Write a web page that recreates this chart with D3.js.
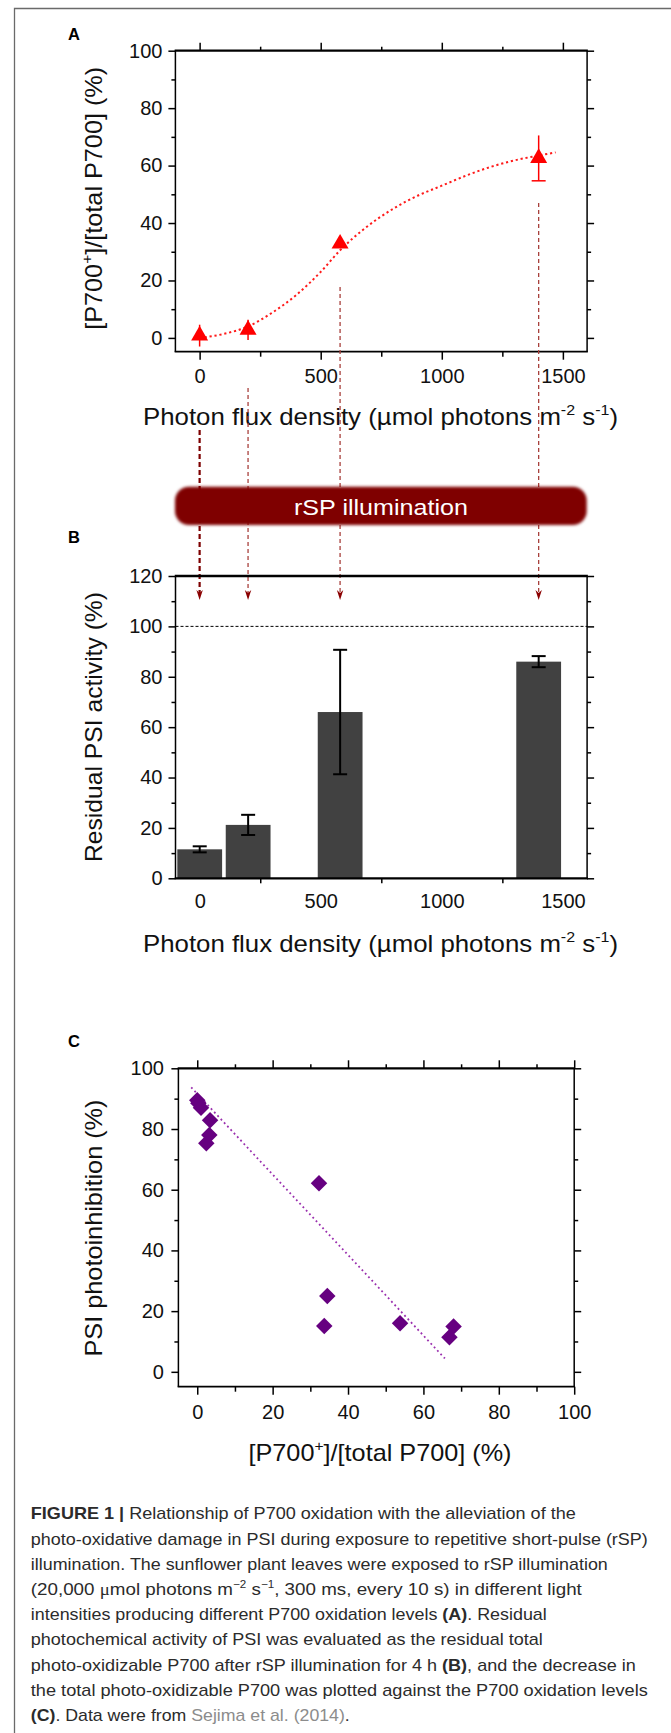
<!DOCTYPE html>
<html><head><meta charset="utf-8">
<script src="https://cdn.jsdelivr.net/npm/d3@7"></script>
<style>
html,body{margin:0;padding:0;background:#fff;}
svg text{font-family:"Liberation Sans",Arial,Helvetica,sans-serif;}
</style></head><body>
<svg id="chart" width="671" height="1733"></svg>
<script>
// ---------------- DATA ----------------
// Panel A: P700 oxidation vs photon flux density
const pfdLevels = [0, 200, 580, 1400];
const p700Ox = [0.8, 2.8, 32.8, 62.6];
const p700OxErr = [3.8, 3.5, 1.5, 7.9];
// fitted sigmoid curve
const fitX = [0, 100, 200, 300, 400, 500, 580, 680, 800, 900, 1000, 1100, 1200, 1300, 1400, 1470];
const fitY = [0, 1.4, 4.0, 8.8, 15.0, 23.0, 30.5, 38.0, 45.0, 49.5, 53.0, 56.5, 59.5, 61.8, 63.5, 64.6];
// Panel B: residual PSI activity
const residualPSI = [11.5, 21.2, 66.0, 86.0];
const residualErr = [1.2, 4.0, 24.7, 2.2];
// Panel C: PSI photoinhibition vs P700 oxidation
const oxLevel = [0, 0.3, 1.0, 3.4, 3.2, 2.4, 32.3, 34.5, 33.7, 53.8, 68.0, 66.9];
const photoinhib = [89.5, 88.5, 87.0, 82.9, 78.0, 75.3, 62.1, 25.0, 15.1, 16.0, 14.9, 11.4];
const regX = [-1.6, 65.7];
const regY = [93.7, 4.4];
// ticks
const pfdMajor = [0, 500, 1000, 1500];
const pfdMinor = [250, 750, 1250];
const pctMajor = [0, 20, 40, 60, 80, 100];
const pctMinor = [10, 30, 50, 70, 90];
const resMajor = [0, 20, 40, 60, 80, 100, 120];
const resMinor = [10, 30, 50, 70, 90, 110];

// ---------------- DRAW ----------------
const FONT = '"Liberation Sans",Arial,Helvetica,sans-serif';
const svg = d3.select('#chart');
svg.append('rect').attr('width', 671).attr('height', 1733).attr('fill', '#fff');
const defs = svg.append('defs');
defs.append('filter').attr('id', 'soft')
  .attr('x', '-5%').attr('y', '-30%').attr('width', '110%').attr('height', '160%')
  .append('feGaussianBlur').attr('stdDeviation', 1.6);

// outer figure frame
svg.append('path').attr('d', 'M14.5,1733 V8.5 H671').attr('fill', 'none')
  .attr('stroke', '#6a6a6a').attr('stroke-width', 1.3);

function axis(gen, scale, tx, ty, vals, size, labels, pad) {
  const a = gen(scale).tickValues(vals).tickSize(size).tickSizeOuter(0);
  if (labels) a.tickPadding(pad).tickFormat(d3.format('d')); else a.tickFormat('');
  const g = svg.append('g').attr('transform', `translate(${tx},${ty})`).call(a);
  g.attr('font-family', FONT).attr('font-size', 20);
  g.select('.domain').remove();
  g.selectAll('line').attr('stroke', '#000').attr('stroke-width', 1.5);
  g.selectAll('text').attr('fill', '#111');
  return g;
}

function frame(b, thickTop, thickBottom) {
  svg.append('line').attr('x1', b.l).attr('x2', b.l).attr('y1', b.t).attr('y2', b.b)
    .attr('stroke', '#000').attr('stroke-width', 1.5);
  svg.append('line').attr('x1', b.r).attr('x2', b.r).attr('y1', b.t).attr('y2', b.b)
    .attr('stroke', '#000').attr('stroke-width', 1.5);
  svg.append('line').attr('x1', b.l - 0.75).attr('x2', b.r + 0.75).attr('y1', b.t).attr('y2', b.t)
    .attr('stroke', '#000').attr('stroke-width', thickTop);
  svg.append('line').attr('x1', b.l - 0.75).attr('x2', b.r + 0.75).attr('y1', b.b).attr('y2', b.b)
    .attr('stroke', '#000').attr('stroke-width', thickBottom);
}

function panelLabel(t, x, y) {
  svg.append('text').attr('x', x).attr('y', y).text(t)
    .attr('font-size', 16.5).attr('font-weight', 'bold').attr('fill', '#000');
}

function yTitle(parts, cx, cy, len) {
  const t = svg.append('text').attr('transform', `translate(${cx},${cy}) rotate(-90)`)
    .attr('text-anchor', 'middle').attr('font-size', 24).attr('fill', '#111')
    .attr('textLength', len).attr('lengthAdjust', 'spacingAndGlyphs');
  addParts(t, parts, 24);
}
function xTitle(parts, cx, y, len) {
  const t = svg.append('text').attr('x', cx).attr('y', y)
    .attr('text-anchor', 'middle').attr('font-size', 24).attr('fill', '#111')
    .attr('textLength', len).attr('lengthAdjust', 'spacingAndGlyphs');
  addParts(t, parts, 24);
}
function addParts(t, parts, fs) {
  let raised = false;
  parts.forEach(p => {
    const s = t.append('tspan').text(p.s);
    if (p.sup) { s.attr('font-size', fs * 0.62).attr('dy', raised ? 0 : -fs * 0.42); raised = true; }
    else if (raised) { s.attr('dy', fs * 0.42); raised = false; }
    if (p.bold) s.attr('font-weight', 'bold');
    if (p.serif) s.attr('font-family', '"Liberation Serif","Times New Roman",serif');
    if (p.color) s.attr('fill', p.color);
  });
}
const pfdTitle = [{s: 'Photon flux density (µmol photons m'}, {s: '-2', sup: true}, {s: ' s'}, {s: '-1', sup: true}, {s: ')'}];
const oxTitle = [{s: '[P700'}, {s: '+', sup: true}, {s: ']/[total P700] (%)'}];

// ===== Panel A =====
const A = {l: 175.4, r: 587.1, t: 50.7, b: 351.7};
const xA = d3.scaleLinear().domain([-100, 1600]).range([A.l, A.r]);
const yA = d3.scaleLinear().domain([-4.8, 100]).range([A.b, A.t]);
axis(d3.axisLeft, yA, A.l, 0, pctMajor, 7, true, 6);
axis(d3.axisLeft, yA, A.l, 0, pctMinor, 4, false);
axis(d3.axisRight, yA, A.r, 0, pctMajor, 7, false);
axis(d3.axisRight, yA, A.r, 0, pctMinor, 4, false);
axis(d3.axisTop, xA, 0, A.t, pfdMajor, 8, false);
axis(d3.axisTop, xA, 0, A.t, pfdMinor, 4, false);
axis(d3.axisBottom, xA, 0, A.b, pfdMajor, 8, true, 9);
axis(d3.axisBottom, xA, 0, A.b, pfdMinor, 5, false);
frame(A, 2.2, 1.8);
panelLabel('A', 68, 40);
yTitle(oxTitle, 102, 198.3, 263);
xTitle(pfdTitle, 380.5, 425, 475);

// fitted curve
const fitPts = fitX.map((x, i) => [x, fitY[i]]);
svg.append('path').datum(fitPts)
  .attr('d', d3.line().x(d => xA(d[0])).y(d => yA(d[1])).curve(d3.curveMonotoneX))
  .attr('fill', 'none').attr('stroke', '#ff1a1a').attr('stroke-width', 2)
  .attr('stroke-dasharray', '2.2,2.8');

// error bars + triangles
pfdLevels.forEach((x, i) => {
  const cx = xA(x), lo = yA(p700Ox[i] - p700OxErr[i]), hi = yA(p700Ox[i] + p700OxErr[i]);
  svg.append('line').attr('x1', cx).attr('x2', cx).attr('y1', lo).attr('y2', hi)
    .attr('stroke', '#ff0000').attr('stroke-width', 1.5);
  if (p700OxErr[i] > 5) {
    svg.append('line').attr('x1', cx - 7).attr('x2', cx + 7).attr('y1', lo).attr('y2', lo)
      .attr('stroke', '#ff0000').attr('stroke-width', 1.5);
  }
});
svg.selectAll('.tri').data(pfdLevels).enter().append('path')
  .attr('d', d3.symbol(d3.symbolTriangle, 125))
  .attr('transform', (d, i) => `translate(${xA(d)},${yA(p700Ox[i])})`)
  .attr('fill', '#ff0000');

// ===== Panel B frame/scales =====
const B = {l: 175.5, r: 587.1, t: 576, b: 878.3};
const xB = d3.scaleLinear().domain([-100, 1600]).range([B.l, B.r]);
const yB = d3.scaleLinear().domain([0, 120]).range([B.b, B.t]);

// guide lines from A to B (dashed arrows)
const guideTop = [430, 388, 287, 203];
const arrowTip = 600;
pfdLevels.forEach((x, i) => {
  const gx = xA(x);
  svg.append('line').attr('x1', gx).attr('x2', gx).attr('y1', guideTop[i]).attr('y2', arrowTip - 6)
    .attr('stroke', i === 0 ? '#7d0000' : '#a8403c')
    .attr('stroke-width', i === 0 ? 2.2 : 1.3)
    .attr('stroke-dasharray', i === 0 ? '5,3' : '4,3');
  svg.append('path')
    .attr('d', `M${gx - 3.2},${arrowTip - 10} L${gx},${arrowTip} L${gx + 3.2},${arrowTip - 10} L${gx},${arrowTip - 7} Z`)
    .attr('fill', '#8b0000');
});

// rSP illumination bar
svg.append('rect').attr('x', 175).attr('y', 486.7).attr('width', 411.7).attr('height', 38.3)
  .attr('rx', 14).attr('fill', '#7f0000').attr('filter', 'url(#soft)');
svg.append('text').attr('x', 381).attr('y', 515).attr('text-anchor', 'middle')
  .attr('font-size', 22.5).attr('fill', '#fff').attr('textLength', 174)
  .attr('lengthAdjust', 'spacingAndGlyphs').text('rSP illumination');

// ===== Panel B =====
axis(d3.axisLeft, yB, B.l, 0, resMajor, 7, true, 6);
axis(d3.axisLeft, yB, B.l, 0, resMinor, 4, false);
axis(d3.axisRight, yB, B.r, 0, resMajor, 7, false);
axis(d3.axisRight, yB, B.r, 0, resMinor, 4, false);
axis(d3.axisBottom, xB, 0, B.b, pfdMajor, 0, true, 16);
axis(d3.axisBottom, xB, 0, B.b, pfdMinor, 5, false);

// 100% reference line
svg.append('line').attr('x1', B.l).attr('x2', B.r).attr('y1', yB(100)).attr('y2', yB(100))
  .attr('stroke', '#000').attr('stroke-width', 1).attr('stroke-dasharray', '3,2');

const barHalf = 92.5;
svg.selectAll('.bar').data(pfdLevels).enter().append('rect')
  .attr('x', d => xB(d - barHalf)).attr('width', d => xB(d + barHalf) - xB(d - barHalf))
  .attr('y', (d, i) => yB(residualPSI[i])).attr('height', (d, i) => yB(0) - yB(residualPSI[i]))
  .attr('fill', '#414141');
pfdLevels.forEach((x, i) => {
  const cx = xB(x), lo = yB(residualPSI[i] - residualErr[i]), hi = yB(residualPSI[i] + residualErr[i]);
  svg.append('line').attr('x1', cx).attr('x2', cx).attr('y1', lo).attr('y2', hi)
    .attr('stroke', '#000').attr('stroke-width', 2);
  [lo, hi].forEach(yy => svg.append('line').attr('x1', cx - 7).attr('x2', cx + 7)
    .attr('y1', yy).attr('y2', yy).attr('stroke', '#000').attr('stroke-width', 2));
});
frame(B, 2.4, 2.2);
panelLabel('B', 68, 543.3);
yTitle([{s: 'Residual PSI activity (%)'}], 102, 727, 270);
xTitle(pfdTitle, 380.5, 951.6, 475);

// ===== Panel C =====
const C = {l: 178.4, r: 574.2, t: 1068.3, b: 1386.7};
const xC = d3.scaleLinear().domain([-5, 100]).range([C.l, C.r]);
const yC = d3.scaleLinear().domain([-4.9, 100]).range([C.b, C.t]);
const cMajor = [0, 20, 40, 60, 80, 100];
const cMinor = [10, 30, 50, 70, 90];
axis(d3.axisLeft, yC, C.l, 0, pctMajor, 7, true, 7.5);
axis(d3.axisLeft, yC, C.l, 0, pctMinor, 4, false);
axis(d3.axisRight, yC, C.r, 0, pctMajor, 7, false);
axis(d3.axisRight, yC, C.r, 0, pctMinor, 4, false);
axis(d3.axisTop, xC, 0, C.t, cMajor, 8, false);
axis(d3.axisTop, xC, 0, C.t, cMinor, 4, false);
axis(d3.axisBottom, xC, 0, C.b, cMajor, 8, true, 10);
axis(d3.axisBottom, xC, 0, C.b, cMinor, 5, false);
frame(C, 2.2, 1.8);
panelLabel('C', 68, 1046.7);
yTitle([{s: 'PSI photoinhibition (%)'}], 102, 1228, 257);
xTitle(oxTitle, 380, 1461, 263);

svg.append('line').attr('x1', xC(regX[0])).attr('x2', xC(regX[1]))
  .attr('y1', yC(regY[0])).attr('y2', yC(regY[1]))
  .attr('stroke', '#9a2fae').attr('stroke-width', 1.8).attr('stroke-dasharray', '1.8,3');
svg.selectAll('.dia').data(oxLevel).enter().append('path')
  .attr('d', d3.symbol(d3.symbolSquare, 136))
  .attr('transform', (d, i) => `translate(${xC(d)},${yC(photoinhib[i])}) rotate(45)`)
  .attr('fill', '#660080');

// ===== Caption =====
const captionLines = [
  [{s: 'FIGURE 1 | ', bold: true}, {s: 'Relationship of P700 oxidation with the alleviation of the'}],
  [{s: 'photo-oxidative damage in PSI during exposure to repetitive short-pulse (rSP)'}],
  [{s: 'illumination. The sunflower plant leaves were exposed to rSP illumination'}],
  [{s: '(20,000 '}, {s: 'μ', serif: true}, {s: 'mol photons m'}, {s: '−2', sup: true}, {s: ' s'}, {s: '−1', sup: true}, {s: ', 300 ms, every 10 s) in different light'}],
  [{s: 'intensities producing different P700 oxidation levels '}, {s: '(A)', bold: true}, {s: '. Residual'}],
  [{s: 'photochemical activity of PSI was evaluated as the residual total'}],
  [{s: 'photo-oxidizable P700 after rSP illumination for 4 h '}, {s: '(B)', bold: true}, {s: ', and the decrease in'}],
  [{s: 'the total photo-oxidizable P700 was plotted against the P700 oxidation levels'}],
  [{s: '(C)', bold: true}, {s: '. Data were from '}, {s: 'Sejima et al. (2014)', color: '#8c8c8c'}, {s: '.'}]
];
const captionWidths = [545, 617, 577, 551, 516, 512, 605, 617, 319];
captionLines.forEach((parts, i) => {
  const t = svg.append('text').attr('x', 30.8).attr('y', 1519.3 + i * 25.2)
    .attr('font-size', 17).attr('fill', '#2b2b2b')
    .attr('textLength', captionWidths[i]).attr('lengthAdjust', 'spacingAndGlyphs');
  addParts(t, parts, 17);
});
</script>
</body></html>
